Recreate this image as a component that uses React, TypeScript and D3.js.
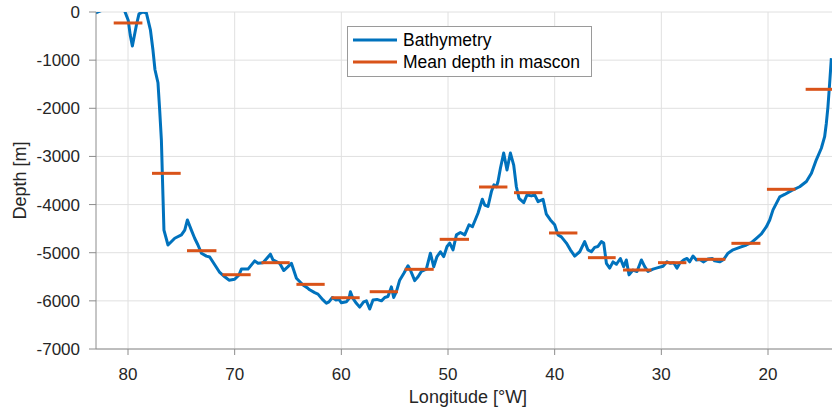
import React from "react";
import * as d3 from "d3";

const bathyLon = [
  83.03, 82.4, 82.0, 80.7, 80.31, 79.98, 79.79, 79.59, 79.21, 78.97, 78.59, 78.28, 77.9, 77.66, 77.47, 77.19,
  77.03, 76.87, 76.72, 76.63, 76.25, 75.62, 74.99, 74.68, 74.43, 74.06, 73.75, 73.44, 73.12, 72.65, 72.34,
  71.87, 71.4, 70.93, 70.53, 70.0, 69.59, 69.37, 68.75, 68.12, 67.81, 67.34, 66.65, 66.41, 65.78, 65.4, 65.0,
  64.68, 64.21, 63.59, 63.13, 62.97, 62.5, 62.19, 61.72, 61.4, 61.16, 60.84, 60.53, 60.22, 59.99, 59.53, 59.28,
  59.15, 58.91, 58.59, 58.28, 57.91, 57.65, 57.34, 57.03, 56.66, 56.24, 55.93, 55.63, 55.31, 55.09, 54.84,
  54.53, 54.15, 53.75, 53.53, 53.12, 52.81, 52.5, 52.03, 51.65, 51.34, 51.03, 50.71, 50.4, 50.09, 49.84, 49.53,
  49.21, 48.84, 48.43, 48.03, 47.71, 47.19, 46.78, 46.56, 46.25, 45.93, 45.69, 45.46, 45.31, 45.09, 44.78,
  44.47, 44.15, 43.84, 43.59, 43.34, 42.9, 42.59, 42.18, 41.87, 41.56, 41.09, 40.78, 40.4, 40.0, 39.69, 39.37,
  38.9, 38.53, 38.12, 37.65, 37.19, 36.88, 36.56, 36.25, 35.94, 35.62, 35.4, 35.15, 34.84, 34.53, 34.21, 33.84,
  33.53, 33.28, 33.03, 32.66, 32.28, 31.87, 31.56, 31.25, 30.78, 30.31, 29.84, 29.47, 29.15, 28.84, 28.53,
  28.28, 27.9, 27.59, 27.34, 27.03, 26.71, 26.4, 26.03, 25.63, 25.21, 25.0, 24.53, 24.15, 23.75, 23.28, 22.65,
  22.03, 21.56, 21.09, 20.62, 20.15, 19.84, 19.53, 18.9, 18.44, 17.81, 17.03, 16.4, 15.93, 15.47, 15.0, 14.69,
  14.53, 14.38, 14.22, 14.06,
];
const bathyDepth = [
  -20, 40, 200, 200, 20, -170, -480, -706, -270, -40, 0, -20, -370, -790, -1200, -1470,
  -2040, -2660, -3840, -4530, -4840, -4700, -4630, -4530, -4320, -4530, -4700, -4840, -5010, -5070, -5090,
  -5250, -5410, -5500, -5570, -5550, -5460, -5340, -5340, -5170, -5220, -5210, -5030, -5150, -5220, -5370, -5290,
  -5220, -5530, -5670, -5740, -5770, -5830, -5860, -5980, -6050, -6020, -5930, -5980, -5970, -6040, -6020, -5950,
  -5810, -5950, -6050, -6130, -6020, -6000, -6170, -5980, -5970, -6000, -5930, -5910, -5710, -5930, -5810,
  -5570, -5430, -5270, -5360, -5580, -5500, -5390, -5340, -5010, -5290, -5080, -4980, -5080, -4870, -4800, -4940,
  -4630, -4580, -4630, -4420, -4460, -4180, -3890, -4010, -4040, -3730, -3590, -3630, -3520, -3250, -2930,
  -3280, -2930, -3180, -3630, -3870, -3960, -3800, -3820, -3800, -3940, -3890, -4200, -4320, -4420, -4630, -4670,
  -4800, -4940, -5070, -4980, -4770, -4940, -4980, -4890, -4870, -4770, -4800, -5220, -5320, -5190, -5240, -5120,
  -5290, -5150, -5460, -5360, -5390, -5150, -5290, -5390, -5340, -5310, -5280, -5190, -5220, -5210, -5320,
  -5220, -5150, -5120, -5190, -5070, -5150, -5140, -5190, -5130, -5120, -5170, -5190, -5140, -5010, -4940, -4890,
  -4840, -4790, -4700, -4610, -4460, -4320, -4110, -3840, -3790, -3710, -3630, -3520, -3350, -3070, -2830, -2590,
  -2310, -1970, -1480, -960,
];

const masconWest = [81.34, 77.75, 74.47, 71.15, 67.49, 64.21, 60.93, 57.34, 54.06, 50.78, 47.09, 43.81, 40.53, 36.88, 33.59, 30.31, 26.66, 23.43, 20.1, 16.47];
const masconEast = [78.65, 75.06, 71.71, 68.5, 64.84, 61.56, 58.28, 54.69, 51.34, 48.03, 44.43, 41.15, 37.87, 34.28, 30.93, 27.65, 24.0, 20.71, 17.43, 13.8];
const masconDepth = [-228, -3351, -4958, -5457, -5207, -5657, -5935, -5810, -5345, -4722, -3635, -3753, -4590, -5103, -5359, -5207, -5137, -4805, -3683, -1606];

const xTicks = [80, 70, 60, 50, 40, 30, 20];
const yTicks = [0, -1000, -2000, -3000, -4000, -5000, -6000, -7000];
const legendLabels = ["Bathymetry", "Mean depth in mascon"];

const W = 832;
const H = 411;
const L = 96;
const R = 832;
const T = 12;
const B = 349;
const BLUE = "#0072BD";
const ORANGE = "#D95319";
const FONT = "'Liberation Sans', Arial, Helvetica, sans-serif";

export default function App() {
  const x = d3.scaleLinear().domain([83, 14]).range([L, R]);
  const y = d3.scaleLinear().domain([-7000, 0]).range([B, T]);
  const pts: [number, number][] = bathyLon.map((lon, i) => [lon, bathyDepth[i]] as [number, number]);
  const line = d3
    .line<[number, number]>()
    .x((d) => x(d[0]))
    .y((d) => y(d[1]));

  return (
    <svg
      width={W}
      height={H}
      style={{ position: "absolute", left: 0, top: 0, display: "block", background: "#fff" }}
      fontFamily={FONT}
    >
      <defs>
        <clipPath id="plotclip">
          <rect x={L} y={T} width={R - L} height={B - T} />
        </clipPath>
      </defs>
      <rect x={0} y={0} width={W} height={H} fill="#fff" />
      <g stroke="#e0e0e0" strokeWidth={1}>
        {xTicks.map((t) => (
          <line key={"gx" + t} x1={x(t)} x2={x(t)} y1={T} y2={B} />
        ))}
        {yTicks.map((t) => (
          <line key={"gy" + t} x1={L} x2={R} y1={y(t)} y2={y(t)} />
        ))}
      </g>
      <g clipPath="url(#plotclip)">
        <path d={line(pts) || ""} fill="none" stroke={BLUE} strokeWidth={3} strokeLinejoin="round" />
        {masconDepth.map((d, i) => (
          <line
            key={"m" + i}
            x1={x(masconWest[i])}
            x2={x(masconEast[i])}
            y1={y(d)}
            y2={y(d)}
            stroke={ORANGE}
            strokeWidth={3}
          />
        ))}
      </g>
      <g stroke="#8c8c8c" strokeWidth={1}>
        <line x1={L} x2={L} y1={T} y2={B} />
        <line x1={L} x2={R} y1={B} y2={B} />
        {xTicks.map((t) => (
          <line key={"tx" + t} x1={x(t)} x2={x(t)} y1={B} y2={B + 6} />
        ))}
        {yTicks.map((t) => (
          <line key={"ty" + t} x1={L - 7} x2={L} y1={y(t)} y2={y(t)} />
        ))}
      </g>
      <g fill="#262626" fontSize={17}>
        {xTicks.map((t) => (
          <text key={"lx" + t} x={x(t)} y={380} textAnchor="middle">
            {t}
          </text>
        ))}
        {yTicks.map((t) => (
          <text key={"ly" + t} x={80} y={y(t)} dy="0.35em" textAnchor="end">
            {t}
          </text>
        ))}
      </g>
      <text x={(L + R) / 2 + 4} y={403} textAnchor="middle" fontSize={18} fill="#262626">
        Longitude [°W]
      </text>
      <text
        transform={`translate(26, ${(T + B) / 2}) rotate(-90)`}
        textAnchor="middle"
        fontSize={18}
        fill="#262626"
      >
        Depth [m]
      </text>
      <g>
        <rect x={347.5} y={26.5} width={244} height={50} fill="#fff" stroke="#9a9a9a" strokeWidth={1} />
        <line x1={353} x2={397} y1={40} y2={40} stroke={BLUE} strokeWidth={3} />
        <line x1={353} x2={397} y1={62} y2={62} stroke={ORANGE} strokeWidth={3} />
        <text x={403} y={40} dy="0.35em" fontSize={17.5} fill="#000">
          {legendLabels[0]}
        </text>
        <text x={403} y={62} dy="0.35em" fontSize={17.5} fill="#000">
          {legendLabels[1]}
        </text>
      </g>
    </svg>
  );
}
